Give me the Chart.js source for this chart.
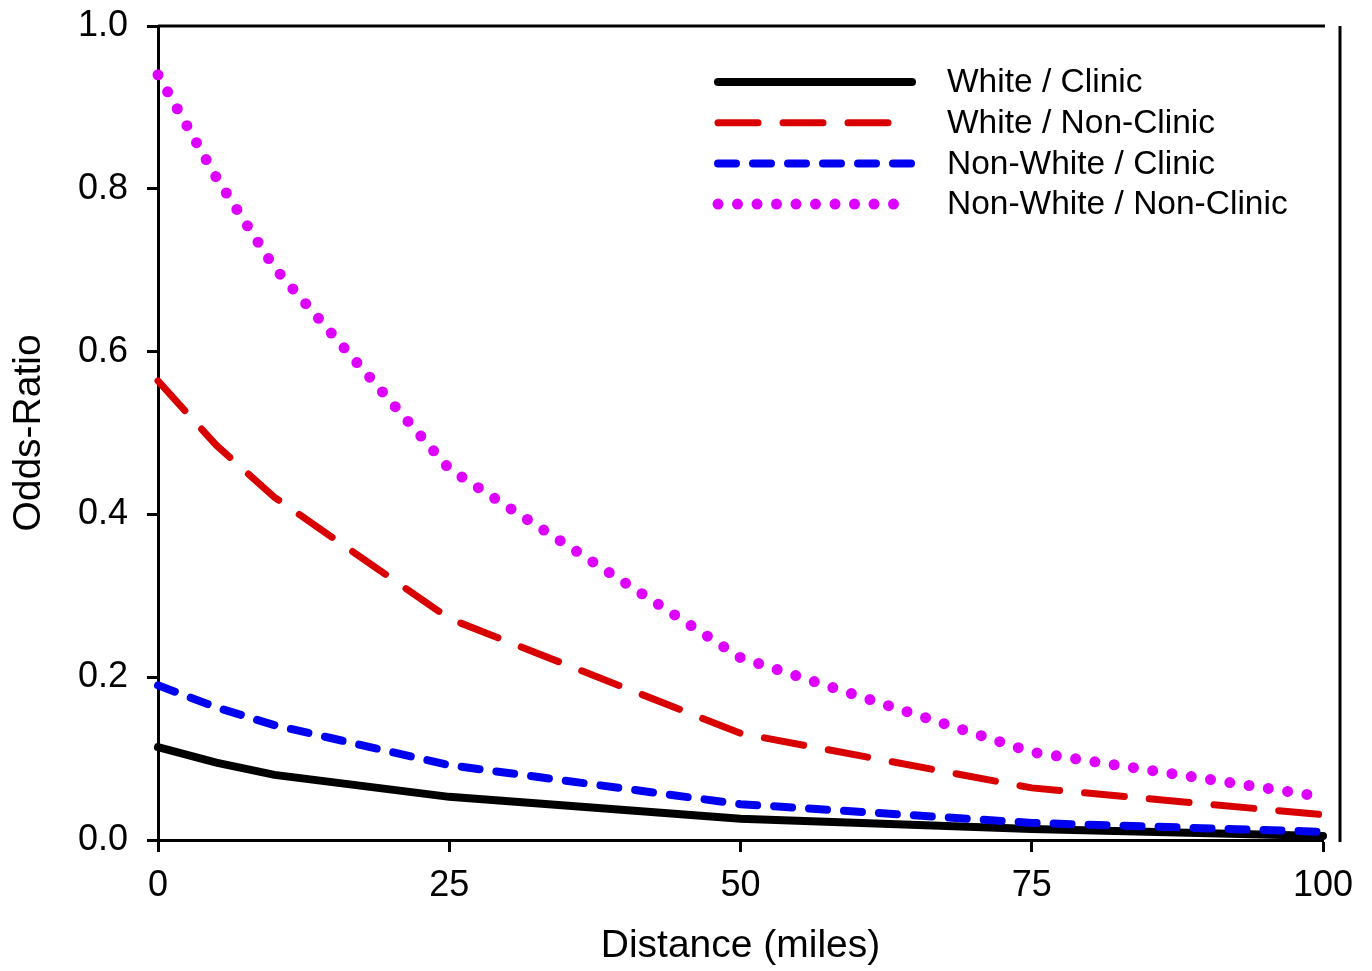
<!DOCTYPE html>
<html>
<head>
<meta charset="utf-8">
<script src="https://cdn.jsdelivr.net/npm/chart.js@4"></script>
<style>
  body { margin: 0; background: #fff; }
  #wrap { width: 1372px; height: 971px; }
</style>
</head>
<body>
<div id="wrap"><canvas id="odds" width="1372" height="971"></canvas></div>
<script>
// distances (miles) where the curves were read
var distance = [0, 5, 10, 25, 50, 75, 100];

// odds-ratio per group
var whiteClinic = [0.114, 0.095, 0.080, 0.053, 0.026, 0.0135, 0.005];
var whiteNonClinic = [0.564, 0.485, 0.421, 0.272, 0.131, 0.064, 0.031];
var nonWhiteClinic = [0.190, 0.163, 0.141, 0.092, 0.044, 0.021, 0.010];
var nonWhiteNonClinic = [0.940, 0.814, 0.703, 0.456, 0.224, 0.108, 0.053];

var seriesNames = ['White / Clinic', 'White / Non-Clinic', 'Non-White / Clinic', 'Non-White / Non-Clinic'];
var xTicks = [0, 25, 50, 75, 100];
var yTicks = [0, 0.2, 0.4, 0.6, 0.8, 1.0];

function points(ys) {
  return distance.map(function (d, i) { return {x: d, y: ys[i]}; });
}

Chart.defaults.font.family = '"Liberation Sans", Arial, sans-serif';
Chart.defaults.color = '#000';

// frame line on top + detached line on the right, and the legend
var framePlugin = {
  id: 'frame',
  beforeDatasetsDraw: function (chart) {
    var a = chart.chartArea, ctx = chart.ctx;
    ctx.save();
    ctx.strokeStyle = '#000';
    ctx.lineWidth = 3;
    ctx.beginPath();
    ctx.moveTo(a.left, a.top);
    ctx.lineTo(a.right + 2, a.top);
    ctx.moveTo(a.right + 17, a.top);
    ctx.lineTo(a.right + 17, a.bottom + 2);
    ctx.stroke();
    ctx.restore();
  },
  afterDatasetsDraw: function (chart) {
    var a = chart.chartArea, ctx = chart.ctx;
    var x0 = a.left + 560, tx = a.left + 789;
    ctx.save();
    chart.data.datasets.forEach(function (ds, i) {
      var y = a.top + 56 + i * 40.7;
      ctx.strokeStyle = ds.borderColor;
      ctx.lineWidth = ds.borderWidth;
      ctx.lineCap = ds.borderCapStyle || 'butt';
      ctx.setLineDash(ds.borderDash || []);
      ctx.beginPath();
      ctx.moveTo(x0, y);
      ctx.lineTo(a.left + ds.legendEnd, y);
      ctx.stroke();
      ctx.setLineDash([]);
      ctx.fillStyle = '#000';
      ctx.font = '33.5px "Liberation Sans", Arial, sans-serif';
      ctx.textBaseline = 'middle';
      ctx.fillText(ds.label, tx, y + 1);
    });
    ctx.restore();
  }
};

var config = {
  type: 'line',
  data: {
    datasets: [{
      label: seriesNames[0],
      data: points(whiteClinic),
      borderColor: '#000000',
      borderWidth: 8,
      borderCapStyle: 'round',
      legendEnd: 754,
      order: 4
    }, {
      label: seriesNames[1],
      data: points(whiteNonClinic),
      borderColor: '#d80000',
      borderWidth: 7,
      borderDash: [40, 25],
      borderCapStyle: 'round',
      legendEnd: 731,
      order: 3
    }, {
      label: seriesNames[2],
      data: points(nonWhiteClinic),
      borderColor: '#0000f0',
      borderWidth: 8,
      borderDash: [18, 17],
      borderCapStyle: 'round',
      legendEnd: 754,
      order: 2
    }, {
      label: seriesNames[3],
      data: points(nonWhiteNonClinic),
      borderColor: '#dd00ff',
      borderWidth: 11,
      borderDash: [0, 19.5],
      borderCapStyle: 'round',
      legendEnd: 737,
      order: 1
    }]
  },
  options: {
    responsive: false,
    animation: false,
    events: [],
    elements: { point: { radius: 0 }, line: { tension: 0, fill: false } },
    datasets: { line: { clip: false } },
    layout: { padding: { top: 26, right: 49, left: 0, bottom: 0 } },
    plugins: { legend: { display: false }, tooltip: { enabled: false } },
    scales: {
      x: {
        type: 'linear',
        min: 0,
        max: 100,
        afterFit: function (s) { s.height = 131; s.paddingLeft = 0; s.paddingRight = 0; },
        afterBuildTicks: function (s) { s.ticks = xTicks.map(function (v) { return {value: v}; }); },
        ticks: { font: { size: 36 }, padding: 12, maxRotation: 0 },
        grid: { drawOnChartArea: false, tickLength: 12, tickWidth: 3, tickColor: '#000' },
        border: { color: '#000', width: 3 },
        title: { display: true, text: 'Distance (miles)', font: { size: 39 }, padding: { top: 0, bottom: 1 } }
      },
      y: {
        type: 'linear',
        min: 0,
        max: 1,
        afterFit: function (s) { s.width = 158; s.paddingTop = 0; s.paddingBottom = 0; },
        afterBuildTicks: function (s) { s.ticks = yTicks.map(function (v) { return {value: v}; }); },
        ticks: { font: { size: 36 }, padding: 19, callback: function (v) { return v.toFixed(1); } },
        grid: { drawOnChartArea: false, tickLength: 11, tickWidth: 3, tickColor: '#000' },
        border: { color: '#000', width: 3 },
        title: { display: true, text: 'Odds-Ratio', font: { size: 39 }, padding: { top: 6, bottom: 0 } }
      }
    }
  },
  plugins: [framePlugin]
};

var oddsChart = new Chart(document.getElementById('odds'), config);
</script>
</body>
</html>
